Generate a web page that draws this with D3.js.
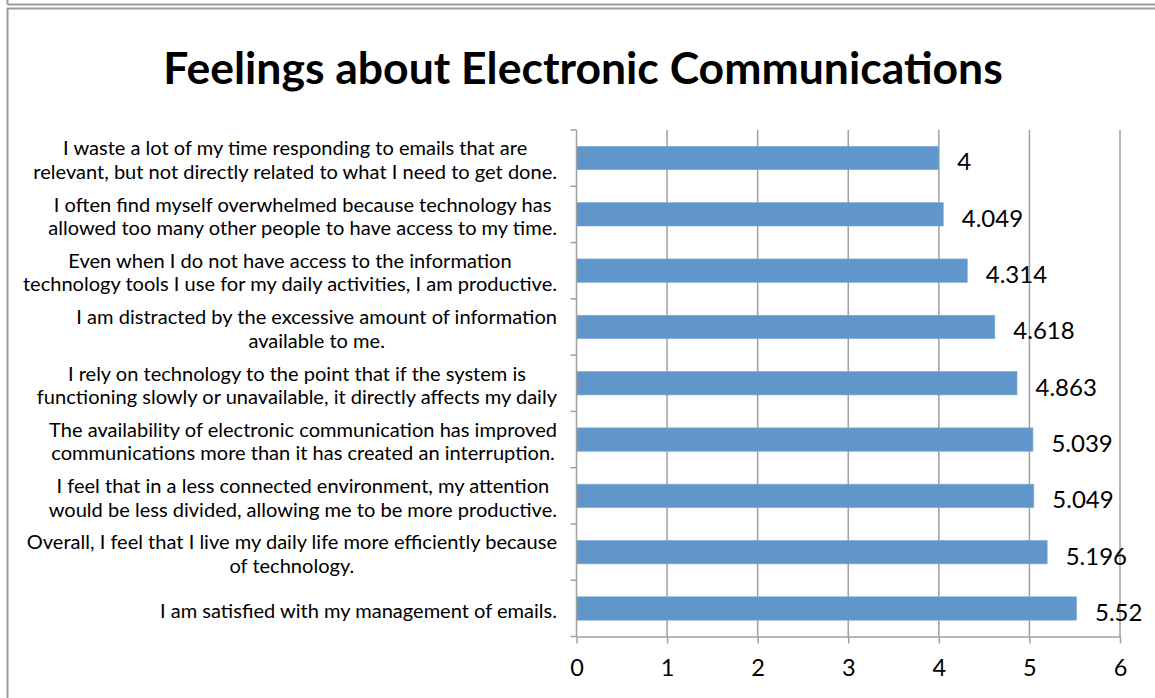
<!DOCTYPE html>
<html>
<head>
<meta charset="utf-8">
<script src="https://cdn.jsdelivr.net/npm/d3@7"></script>
<style>
  html, body { margin: 0; padding: 0; background: #fff; }
  svg { display: block; }
  text { font-family: Lato, "Open Sans", sans-serif; fill: #000; }
</style>
</head>
<body>
<svg id="chart" width="1155" height="698"></svg>
<script>
// Survey statements (top to bottom) with explicit line breaks
const statements = [
  ["I waste a lot of my time responding to emails that are", "relevant, but not directly related to what I need to get done."],
  ["I often find myself overwhelmed because technology has", "allowed too many other people to have access to my time."],
  ["Even when I do not have access to the information", "technology tools I use for my daily activities, I am productive."],
  ["I am distracted by the excessive amount of information", "available to me."],
  ["I rely on technology to the point that if the system is", "functioning slowly or unavailable, it directly affects my daily"],
  ["The availability of electronic communication has improved", "communications more than it has created an interruption."],
  ["I feel that in a less connected environment, my attention", "would be less divided, allowing me to be more productive."],
  ["Overall, I feel that I live my daily life more efficiently because", "of technology."],
  ["I am satisfied with my management of emails."]
];
const scores = [4, 4.049, 4.314, 4.618, 4.863, 5.039, 5.049, 5.196, 5.52];
const scoreLabels = ["4", "4.049", "4.314", "4.618", "4.863", "5.039", "5.049", "5.196", "5.52"];
const xTicks = [0, 1, 2, 3, 4, 5, 6];
const title = "Feelings about Electronic Communications";

const svg = d3.select("#chart");
const gridColor = "#a0a0a0";
const catFont = "'Open Sans', Lato, sans-serif";

// outer frames
svg.append("line").attr("x1", 7.5).attr("x2", 1155).attr("y1", 4.5).attr("y2", 4.5)
  .attr("stroke", "#9a9a9a").attr("stroke-width", 2);
svg.append("line").attr("x1", 7.5).attr("x2", 7.5).attr("y1", 0).attr("y2", 4.5)
  .attr("stroke", "#9a9a9a").attr("stroke-width", 2);
svg.append("rect").attr("x", 7.5).attr("y", 8.5).attr("width", 1160).attr("height", 700)
  .attr("fill", "none").attr("stroke", "#9a9a9a").attr("stroke-width", 2);

svg.append("text").attr("x", 583).attr("y", 84).attr("text-anchor", "middle")
  .attr("font-size", 44.5).attr("font-weight", "bold").text(title);

const x0 = 576.5, x1 = 1120, yTop = 130, yBot = 636.5;
const x = d3.scaleLinear().domain([0, 6]).range([x0, x1]);
const idx = d3.range(scores.length);
const y = d3.scaleBand().domain(idx).range([yTop, yBot]).paddingInner(0.585).paddingOuter(0.29);
const yEdges = d3.scaleLinear().domain([0, scores.length]).range([yTop, yBot]);

// vertical gridlines
svg.append("g").selectAll("line").data(xTicks.slice(1)).join("line")
  .attr("x1", d => x(d)).attr("x2", d => x(d))
  .attr("y1", yTop).attr("y2", yBot)
  .attr("stroke", gridColor).attr("stroke-width", 1.5);

// bars
svg.append("g").selectAll("rect").data(idx).join("rect")
  .attr("x", x(0)).attr("y", i => y(i))
  .attr("width", i => x(scores[i]) - x(0)).attr("height", y.bandwidth())
  .attr("fill", "#6096ca").attr("stroke", "#7aa9d8").attr("stroke-width", 0.6);

// x axis
const xAxis = svg.append("g").attr("transform", `translate(0,${yBot})`)
  .call(d3.axisBottom(x).tickValues(xTicks).tickFormat(d3.format("d"))
    .tickSize(7).tickPadding(16).tickSizeOuter(0));
xAxis.select(".domain").attr("stroke", gridColor).attr("stroke-width", 1.5);
xAxis.selectAll(".tick line").attr("stroke", gridColor).attr("stroke-width", 1.5);
xAxis.selectAll(".tick text").attr("font-size", 23.5).attr("font-family", "Lato, sans-serif").attr("fill", "#000");

// y axis line with category separator ticks
svg.append("line").attr("x1", x0).attr("x2", x0).attr("y1", yTop).attr("y2", yBot)
  .attr("stroke", gridColor).attr("stroke-width", 1.5);
svg.append("g").selectAll("line").data(d3.range(scores.length + 1)).join("line")
  .attr("x1", x0 - 6).attr("x2", x0).attr("y1", d => yEdges(d)).attr("y2", d => yEdges(d))
  .attr("stroke", gridColor).attr("stroke-width", 1.5);

// value labels
svg.append("g").selectAll("text").data(idx).join("text")
  .attr("x", i => x(scores[i]) + 18.5)
  .attr("y", i => y(i) + y.bandwidth() / 2 + 4)
  .attr("dy", "0.35em")
  .attr("font-size", 24)
  .text(i => scoreLabels[i]);

// category labels: wrapped, centred lines, block right-aligned to the axis
const labelRight = 557, lineH = 23.5;
// size the label font so the longest statement line spans 524px
const probe = svg.append("text").attr("font-family", catFont).attr("font-size", 100)
  .text(statements[0][1]);
const catSize = 100 * 524 / probe.node().getComputedTextLength();
probe.remove();

const catG = svg.append("g");
idx.forEach(i => {
  const lines = statements[i];
  const g = catG.append("g");
  const texts = lines.map(s => g.append("text")
    .attr("font-family", catFont).attr("font-size", catSize).text(s));
  const maxW = d3.max(texts, t => t.node().getComputedTextLength());
  const cx = labelRight - maxW / 2;
  const cy = y(i) + y.bandwidth() / 2 + 2;
  texts.forEach((t, k) => {
    t.attr("x", cx).attr("text-anchor", "middle")
     .attr("y", cy + (k - (lines.length - 1) / 2) * lineH)
     .attr("dy", "0.35em");
  });
});
</script>
</body>
</html>
